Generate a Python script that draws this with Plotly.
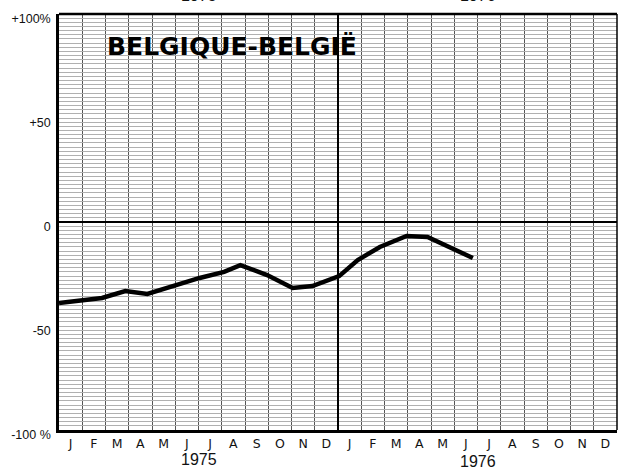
import plotly.graph_objects as go

# ---- data ----
months = ["J", "F", "M", "A", "M", "J", "J", "A", "S", "O", "N", "D",
          "J", "F", "M", "A", "M", "J", "J", "A", "S", "O", "N", "D"]
years = ["1975", "1976"]
# position along the time axis in months since 1 Jan 1975
t_month = [0, 1.85, 2.85, 3.8, 6.05, 7.1, 7.8, 8.95, 10.05, 10.9,
           12.05, 12.85, 13.8, 14.95, 15.85, 17.8]
pct = [-38.9, -36.5, -33.2, -34.6, -26.9, -24.0, -20.7, -25.5, -31.7, -30.8,
       -26.0, -18.3, -12.0, -6.7, -7.2, -17.3]
y_ticks = [-100, -50, 0, 50, 100]
y_ticktext = ["-100 %", "-50", "0", "+50", "+100%"]
title_text = "BELGIQUE-BELGIË"

fig = go.Figure()
fig.add_trace(go.Scatter(
    x=t_month, y=pct, mode="lines",
    line=dict(color="black", width=4.5), showlegend=False, hoverinfo="skip"))

fig.update_layout(
    width=620, height=470,
    margin=dict(l=59, r=3, t=14, b=40, autoexpand=False),
    paper_bgcolor="white", plot_bgcolor="white",
    font=dict(family="Liberation Sans", color="#111"),
)
fig.update_xaxes(
    range=[0, 24], automargin=False,
    tickmode="array",
    tickvals=[i + 0.5 for i in range(24)],
    ticktext=months,
    tickfont=dict(size=12.5, family="DejaVu Sans"),
    ticks="", showgrid=False, zeroline=False,
    showline=True, linecolor="black", linewidth=3, mirror=False,
    minor=dict(tickvals=list(range(1, 24)), showgrid=True,
               gridcolor="#555555", gridwidth=1, ticks=""),
)
fig.update_yaxes(
    range=[-100, 100], automargin=False,
    tickmode="array", tickvals=y_ticks, ticktext=y_ticktext,
    tickfont=dict(size=12.5, family="Liberation Sans"),
    ticks="", showgrid=False,
    zeroline=True, zerolinecolor="black", zerolinewidth=2,
    showline=True, linecolor="black", linewidth=2.5, mirror=False,
    ticklabelshift=5, ticklabelstandoff=3,
    minor=dict(dtick=2, showgrid=True, gridcolor="#b0b0b0", gridwidth=0.8, ticks=""),
)

# top and right frame
fig.add_shape(type="line", xref="paper", yref="paper", x0=0, x1=1, y0=1, y1=1,
              line=dict(color="black", width=2.5))
fig.add_shape(type="line", xref="paper", yref="paper", x0=1, x1=1, y0=0, y1=1,
              line=dict(color="black", width=1.5))
# year boundary
fig.add_shape(type="line", xref="x", yref="paper", x0=12, x1=12, y0=0, y1=1,
              line=dict(color="black", width=2))

# title inside the plot
fig.add_annotation(x=1.98, y=84.5, xref="x", yref="y", text="<b>" + title_text + "</b>",
                   showarrow=False, xanchor="left", yanchor="middle",
                   font=dict(family="DejaVu Sans", size=25, color="black"))

# year labels (bottom) and cut-off copies at the top (the scan crops them)
for yr, xc, yb in zip(years, [6.0, 18.0], [-0.07, -0.075]):
    fig.add_annotation(x=xc, y=yb, xref="x", yref="paper", text=yr, showarrow=False,
                       xanchor="center", yanchor="middle",
                       font=dict(family="Liberation Sans", size=16, color="#111"))
    fig.add_annotation(x=xc, y=1.019, xref="x", yref="paper", text=yr, showarrow=False,
                       xanchor="center", yanchor="bottom",
                       font=dict(family="Liberation Sans", size=16, color="#111"))

fig.write_html("out.html", config={"displayModeBar": False},
               post_script="document.body.style.margin='0';document.body.style.overflow='hidden';")
